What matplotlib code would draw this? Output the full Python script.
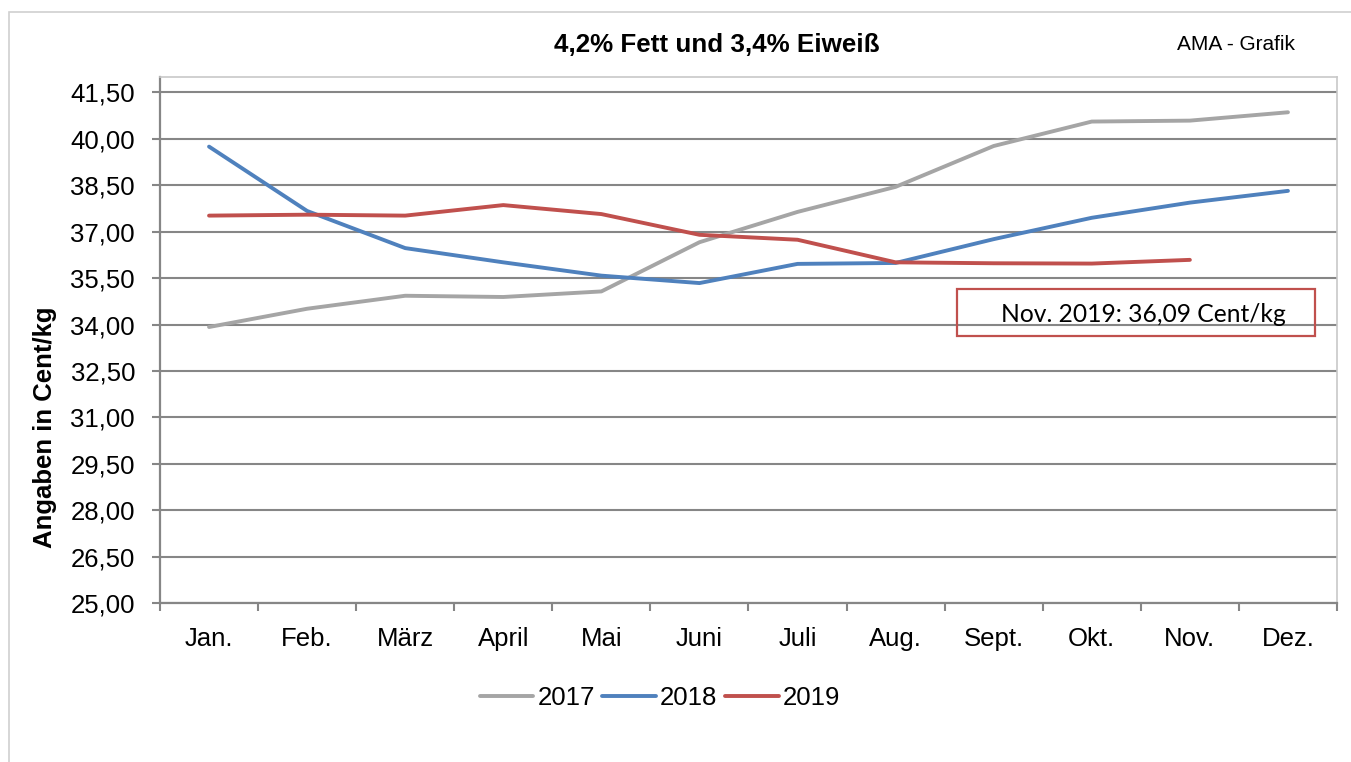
import matplotlib
matplotlib.use("Agg")
import matplotlib.pyplot as plt
from matplotlib.patches import Rectangle
from matplotlib.ticker import FixedLocator, NullFormatter

plt.rcParams['font.family'] = ['Liberation Sans', 'DejaVu Sans']

months = ["Jan.", "Feb.", "März", "April", "Mai", "Juni", "Juli", "Aug.",
          "Sept.", "Okt.", "Nov.", "Dez."]
y2017 = [33.92, 34.51, 34.93, 34.89, 35.07, 36.66, 37.64, 38.45, 39.77, 40.56, 40.59, 40.86]
y2018 = [39.75, 37.67, 36.47, 36.01, 35.58, 35.34, 35.96, 35.99, 36.76, 37.45, 37.94, 38.32]
y2019 = [37.52, 37.55, 37.52, 37.86, 37.57, 36.90, 36.74, 36.01, 35.98, 35.97, 36.09]
series_labels = ["2017", "2018", "2019"]
yticks = [25.0 + 1.5 * i for i in range(12)]
title = "4,2% Fett und 3,4% Eiweiß"
note = "Nov. 2019: 36,09 Cent/kg"

W, H = 1351, 762
fig = plt.figure(figsize=(W / 100, H / 100), dpi=100)

def fx(px):
    return px / W

def fy(py):
    return 1 - py / H

ax = fig.add_axes([fx(160), fy(603), fx(1337) - fx(160), fy(77) - fy(603)])

colors = ["#A5A5A5", "#4F81BD", "#C0504D"]
x = list(range(len(months)))
lines = []
for vals, c, lab in zip([y2017, y2018, y2019], colors, series_labels):
    ln, = ax.plot(x[:len(vals)], vals, color=c, lw=2.8, label=lab,
                  solid_capstyle='round', solid_joinstyle='round', zorder=3)
    lines.append(ln)

ax.set_xlim(-0.5, 11.5)
ax.set_ylim(25.0, 42.0)
ax.set_yticks(yticks)
ax.set_yticklabels([f"{v:.2f}".replace('.', ',') for v in yticks], fontsize=18.5)
ax.set_xticks(x)
ax.set_xticklabels(months, fontsize=18.5)
ax.xaxis.set_minor_locator(FixedLocator([i - 0.5 for i in range(13)]))
ax.xaxis.set_minor_formatter(NullFormatter())
ax.tick_params(axis='x', which='major', length=0, pad=17)
ax.tick_params(axis='x', which='minor', length=6, width=1.5, color='#868686', direction='out')
ax.tick_params(axis='y', length=6, width=1.5, color='#868686', direction='out', pad=12)

ax.grid(axis='y', color='#868686', lw=1.5, zorder=1)
ax.set_axisbelow(True)
for s in ['left', 'bottom']:
    ax.spines[s].set_color('#868686')
    ax.spines[s].set_linewidth(1.6)
for s in ['top', 'right']:
    ax.spines[s].set_color('#C8C8C8')
    ax.spines[s].set_linewidth(1.2)

# titles and labels
fig.text(fx(717), fy(45), title, ha='center', va='center', fontsize=18.7, fontweight='bold')
fig.text(fx(1236), fy(45), "AMA - Grafik", ha='center', va='center', fontsize=15)
fig.text(fx(45), fy(427), "Angaben in Cent/kg", ha='center', va='center', rotation=90,
         fontsize=18.5, fontweight='bold')

# annotation box
fig.patches.append(Rectangle((fx(957), fy(336)), fx(1315) - fx(957), fy(289) - fy(336),
                             transform=fig.transFigure, fill=False, edgecolor='#C0504D',
                             lw=1.6, zorder=5))
fig.text(fx(1143), fy(314), note, ha='center', va='center', fontsize=17.7,
         family=['Lato', 'DejaVu Sans'])

# outer border
fig.patches.append(Rectangle((fx(9), -0.05), 1.2, fy(12) + 0.05, transform=fig.transFigure,
                             fill=False, edgecolor='#D0D0D0', lw=1.2))

leg = fig.legend(handles=lines, labels=series_labels, loc='center',
                 bbox_to_anchor=(fx(660), fy(698)), ncol=3, frameon=False,
                 fontsize=18.5, handlelength=2.1, handletextpad=0.15, columnspacing=0.3)

fig.savefig("out.png", dpi=100)
